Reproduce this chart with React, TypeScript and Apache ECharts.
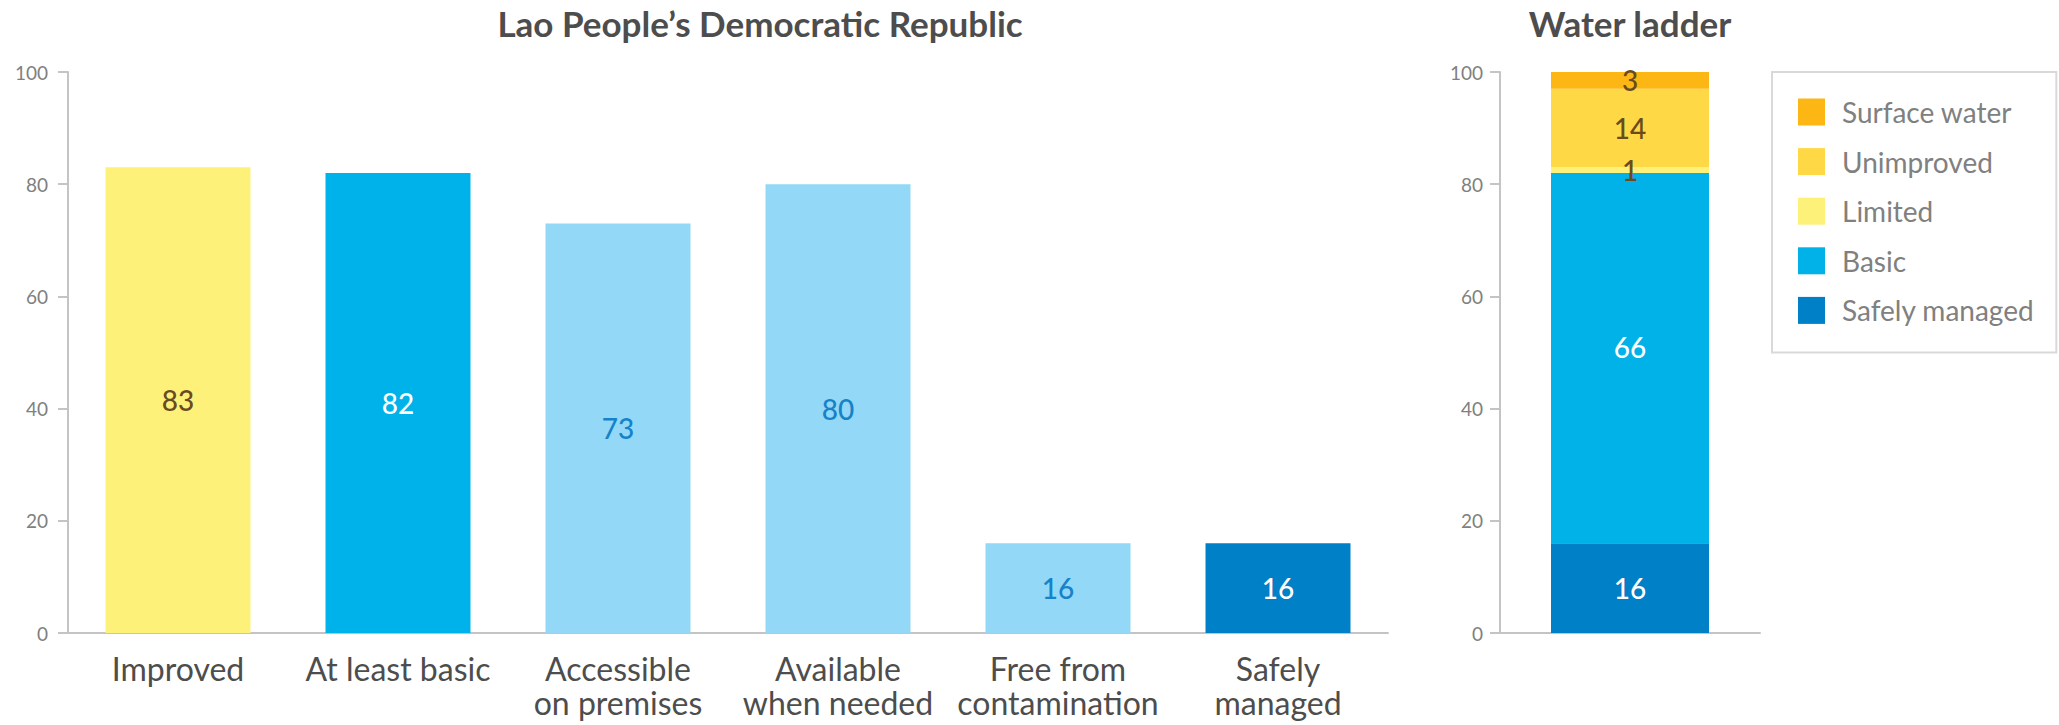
import React, { useEffect, useRef } from "react";
import * as echarts from "echarts";

const categories = [
  "Improved",
  "At least basic",
  "Accessible\non premises",
  "Available\nwhen needed",
  "Free from\ncontamination",
  "Safely\nmanaged",
];
const values = [83, 82, 73, 80, 16, 16];
const barColors = ["#FEF17A", "#00B2EA", "#93D8F6", "#93D8F6", "#93D8F6", "#0080C6"];
const labelColors = ["#6B4A1E", "#FFFFFF", "#1682C9", "#1682C9", "#1682C9", "#FFFFFF"];

const ladderNames = ["Safely managed", "Basic", "Limited", "Unimproved", "Surface water"];
const ladderValues = [16, 66, 1, 14, 3];
const ladderColors = ["#0080C6", "#00B2E8", "#FEF17A", "#FED945", "#FDB714"];
const ladderLabelColors = ["#FFFFFF", "#FFFFFF", "#6B4A1E", "#6B4A1E", "#6B4A1E"];
const legendOrder = ["Surface water", "Unimproved", "Limited", "Basic", "Safely managed"];

const yTicks = [0, 20, 40, 60, 80, 100];

const FONT = "Lato, 'Noto Sans', sans-serif";
const AXIS_GREY = "#c4c4c4";
const LABEL_GREY = "#808080";

export default function App() {
  const ref = useRef<HTMLDivElement>(null);
  useEffect(() => {
    if (!ref.current) return;
    const chart = echarts.init(ref.current, undefined, { renderer: "svg" });
    const yAxisBase = (grid: number, margin: number) => ({
      type: "value",
      gridIndex: grid,
      min: yTicks[0],
      max: yTicks[yTicks.length - 1],
      interval: 20,
      axisLine: { show: true, lineStyle: { color: AXIS_GREY, width: 2 } },
      axisTick: { show: true, length: 10, lineStyle: { color: AXIS_GREY, width: 2 } },
      splitLine: { show: false },
      axisLabel: { fontSize: 19, color: LABEL_GREY, fontFamily: FONT, margin },
    });
    chart.setOption({
      animation: false,
      backgroundColor: "#ffffff",
      textStyle: { fontFamily: FONT },
      graphic: [
        {
          type: "text",
          x: 760,
          y: 23,
          style: {
            text: "Lao People\u2019s Democratic Republic",
            font: `bold 35px ${FONT}`,
            fill: "#4d4d4d",
            textAlign: "center",
            textVerticalAlign: "middle",
          },
        },
        {
          type: "text",
          x: 1630,
          y: 23,
          style: {
            text: "Water ladder",
            font: `bold 35px ${FONT}`,
            fill: "#4d4d4d",
            textAlign: "center",
            textVerticalAlign: "middle",
          },
        },
      ],
      legend: {
        orient: "vertical",
        left: 1772,
        top: 72,
        icon: "rect",
        itemWidth: 27,
        itemHeight: 27,
        itemGap: 21.6,
        padding: [26, 22, 28, 26],
        borderColor: "#d9d9d9",
        borderWidth: 2,
        data: legendOrder,
        textStyle: {
          fontSize: 28,
          color: LABEL_GREY,
          fontFamily: FONT,
          lineHeight: 27,
          padding: [0, 0, 0, 12],
        },
      },
      grid: [
        { left: 68, top: 72, width: 1320, height: 561 },
        { left: 1500, top: 72, width: 260, height: 561 },
      ],
      xAxis: [
        {
          type: "category",
          gridIndex: 0,
          data: categories,
          axisLine: { show: true, lineStyle: { color: AXIS_GREY, width: 2 } },
          axisTick: { show: false },
          axisLabel: {
            fontSize: 32,
            lineHeight: 34,
            color: "#4d4d4d",
            fontFamily: FONT,
            margin: 18,
            interval: 0,
          },
        },
        {
          type: "category",
          gridIndex: 1,
          data: [""],
          axisLine: { show: true, lineStyle: { color: AXIS_GREY, width: 2 } },
          axisTick: { show: false },
          axisLabel: { show: false },
        },
      ],
      yAxis: [yAxisBase(0, 20), yAxisBase(1, 17)],
      series: [
        {
          name: "Service levels",
          type: "bar",
          xAxisIndex: 0,
          yAxisIndex: 0,
          barWidth: 145,
          data: values.map((v, i) => ({
            value: v,
            itemStyle: { color: barColors[i] },
            label: { color: labelColors[i] },
          })),
          label: {
            show: true,
            position: "inside",
            fontSize: 28,
            fontWeight: 500,
            fontFamily: FONT,
          },
        },
        ...ladderNames.map((name, i) => ({
          name,
          type: "bar",
          stack: "ladder",
          xAxisIndex: 1,
          yAxisIndex: 1,
          barWidth: 158,
          itemStyle: { color: ladderColors[i] },
          data: [ladderValues[i]],
          label: {
            show: true,
            position: "inside",
            fontSize: 28,
            fontWeight: 500,
            fontFamily: FONT,
            color: ladderLabelColors[i],
            offset: name === "Basic" ? [0, -11] : [0, 0],
          },
        })),
      ],
    });
    return () => chart.dispose();
  }, []);
  return (
    <div
      ref={ref}
      style={{ position: "fixed", left: 0, top: 0, width: 2059, height: 725, background: "#fff" }}
    />
  );
}
